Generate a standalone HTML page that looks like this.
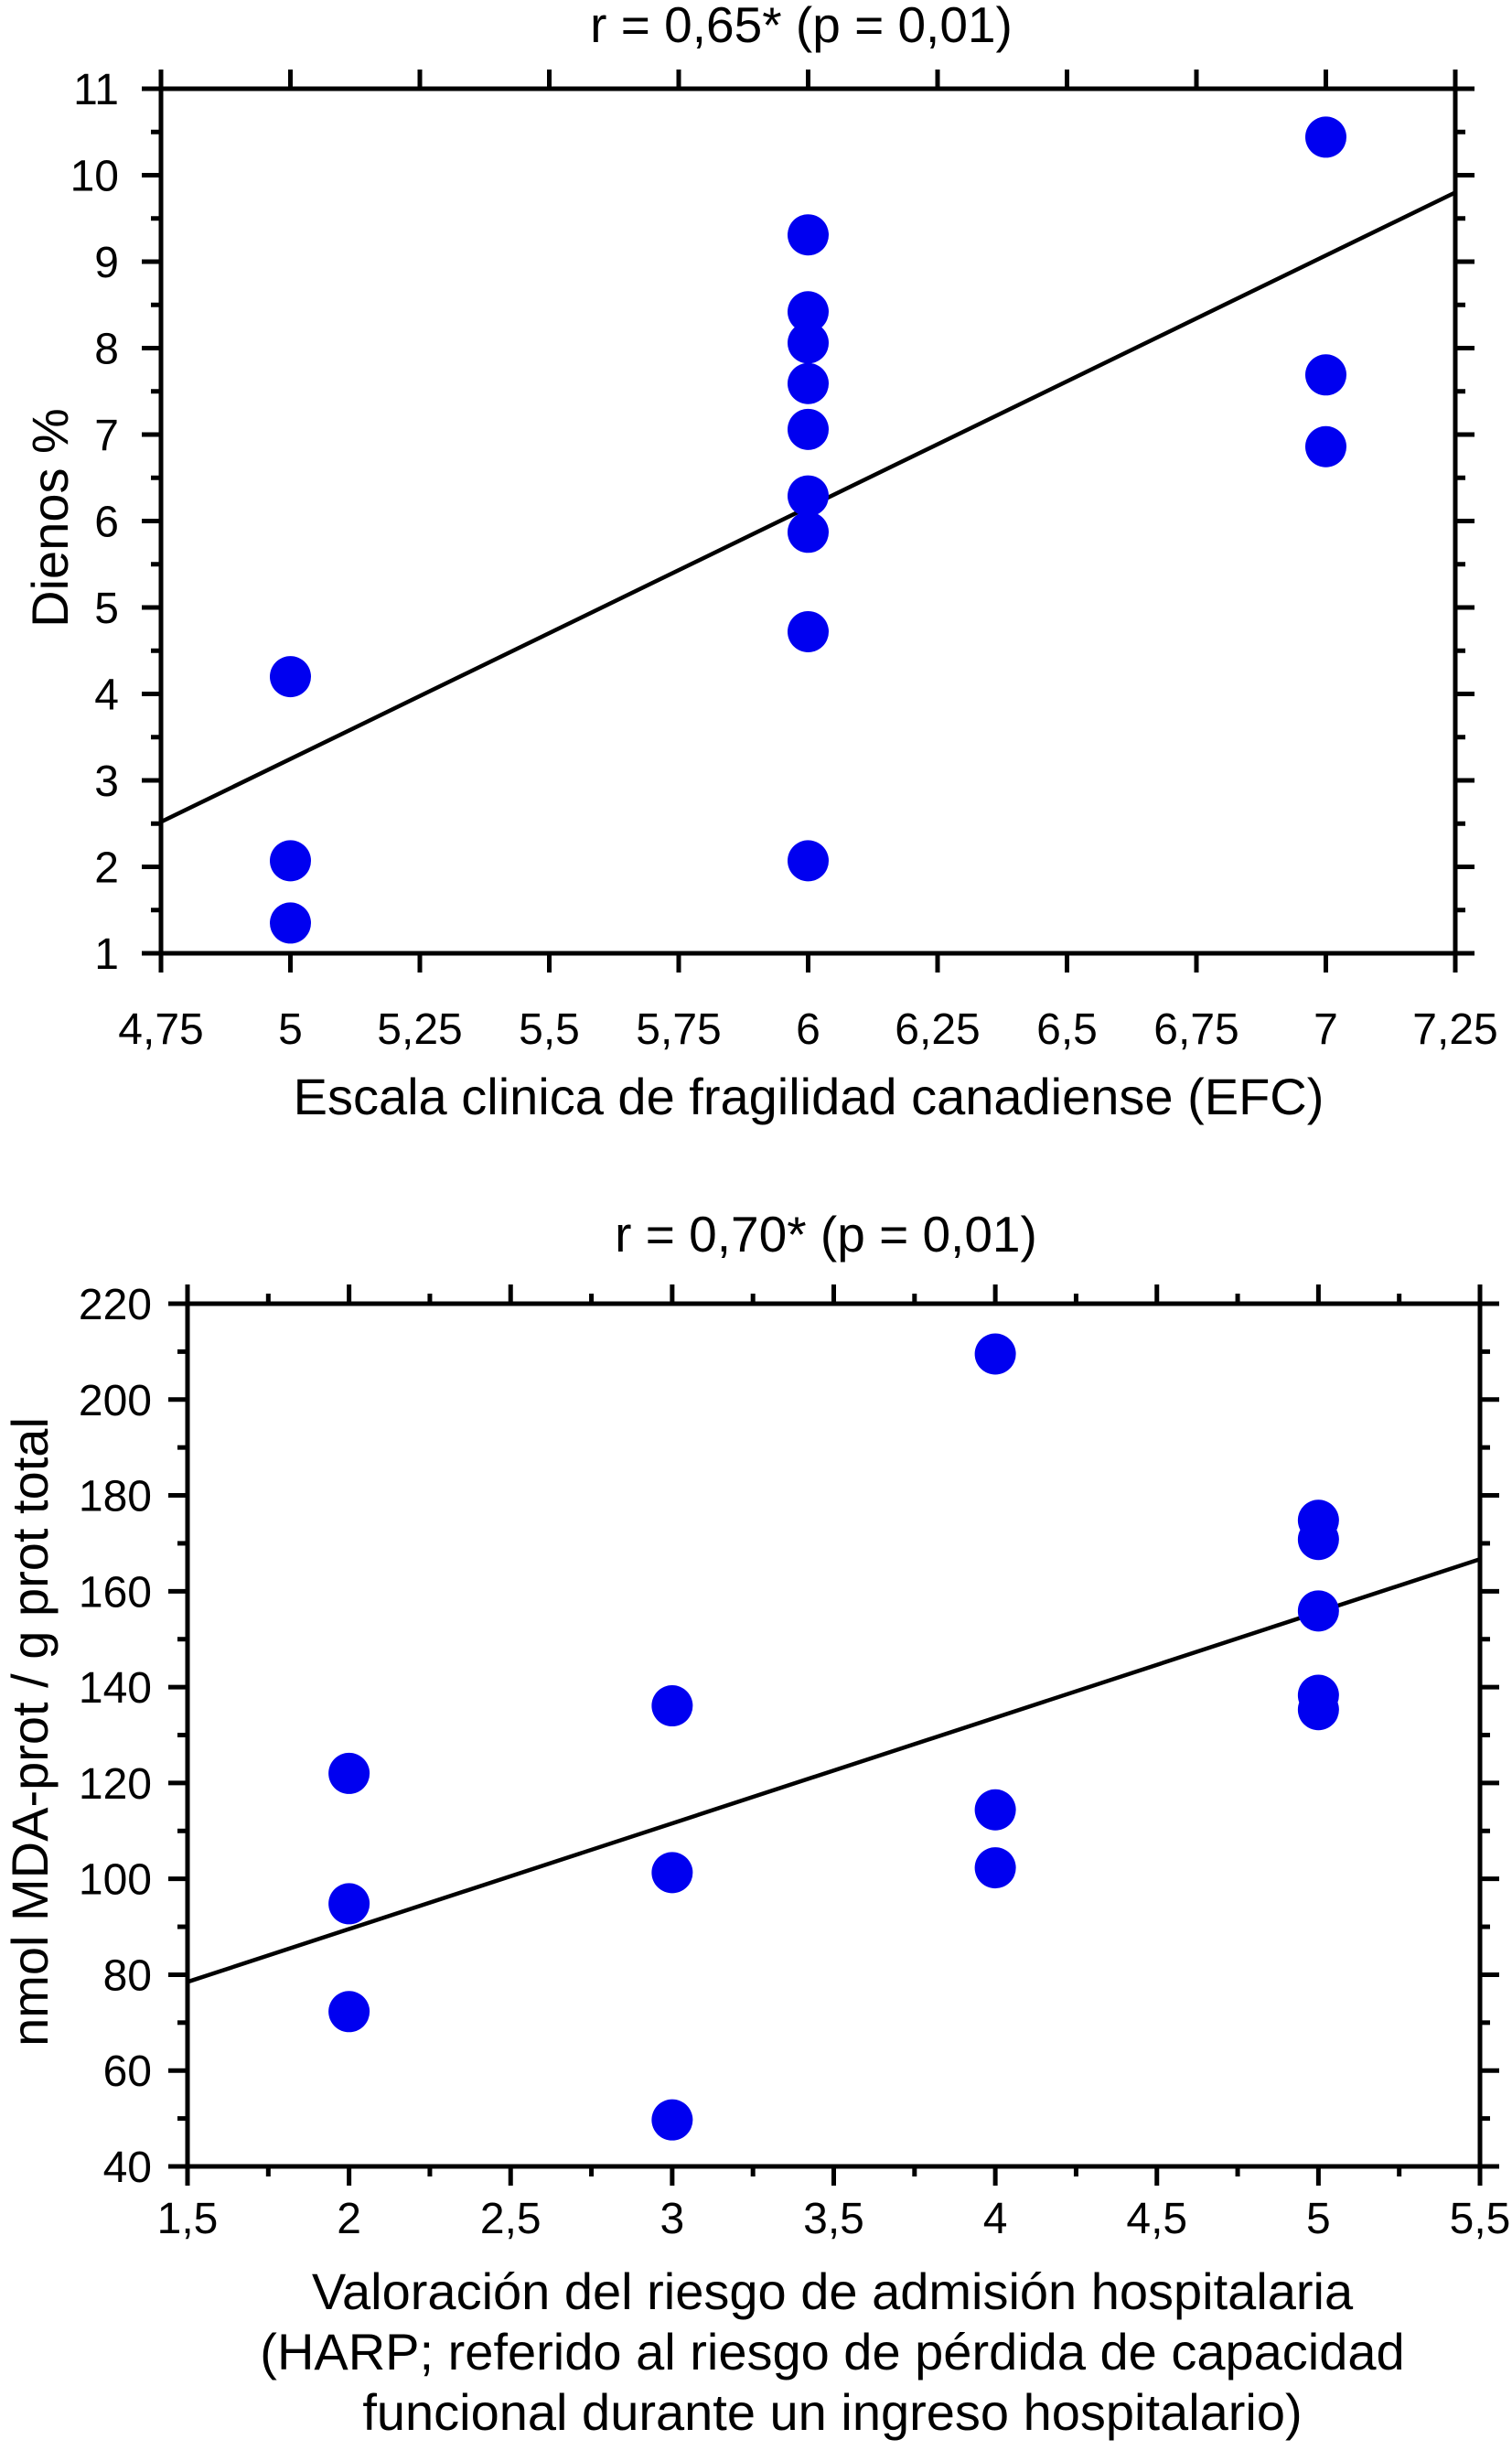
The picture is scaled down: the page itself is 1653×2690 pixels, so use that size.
<!DOCTYPE html>
<html><head><meta charset="utf-8"><style>html,body{margin:0;padding:0;background:#fff}svg{display:block}text{font-family:"Liberation Sans",sans-serif;fill:#000}</style></head>
<body>
<svg id="s" width="1653" height="2690" viewBox="0 0 1653 2690" xmlns="http://www.w3.org/2000/svg"></svg>
<script>
// Chart 1 data
const c1X=[5,5,5,6,6,6,6,6,6,6,6,6,7,7,7];
const c1Y=[4.20,2.07,1.35,9.31,8.42,8.06,7.59,7.06,6.29,5.87,4.72,2.07,10.44,7.69,6.86];
const c1Fit=[[4.75,2.52],[7.25,9.80]];
const c1XTicks=["4,75","5","5,25","5,5","5,75","6","6,25","6,5","6,75","7","7,25"];
const c1YTicks=["1","2","3","4","5","6","7","8","9","10","11"];
// Chart 2 data
const c2X=[2,2,2,3,3,3,4,4,4,5,5,5,5,5];
const c2Y=[122.0,94.8,72.3,136.1,101.3,49.7,209.5,114.4,102.3,174.8,170.8,155.9,138.3,135.3];
const c2Fit=[[1.5,78.5],[5.5,166.7]];
const c2XTicks=["1,5","2","2,5","3","3,5","4","4,5","5","5,5"];
const c2YTicks=["40","60","80","100","120","140","160","180","200","220"];

const NS="http://www.w3.org/2000/svg";
const svg=document.getElementById('s');
function mk(tag,attrs,parent){const e=document.createElementNS(NS,tag);for(const k in attrs)e.setAttribute(k,attrs[k]);(parent||svg).appendChild(e);return e;}
function txt(s,attrs,parent){const e=mk('text',attrs,parent);e.textContent=s;return e;}

function chart(o){
  const g=mk('g',{});
  
  
  const sx=v=>o.L+(v-o.x0)/(o.x1-o.x0)*(o.R-o.L);
  const sy=v=>o.B-(v-o.y0)/(o.y1-o.y0)*(o.B-o.T);
  const fr=mk('rect',{x:o.L,y:o.T,width:o.R-o.L,height:o.B-o.T,fill:'none',stroke:'#000','stroke-width':5},g);
  
  
  o.xTicks.forEach((t,i)=>{
    const v=o.x0+i*o.xStep, x=sx(v);
    mk('line',{x1:x,x2:x,y1:o.T,y2:o.T-21,stroke:'#000','stroke-width':5},g);
    mk('line',{x1:x,x2:x,y1:o.B,y2:o.B+21,stroke:'#000','stroke-width':5},g);
    const l=txt(t,{x:x,y:o.xLabY,'font-size':48,'text-anchor':'middle'},g);
    
    
    if(o.xMinor && i<o.xTicks.length-1){
      const xm=sx(v+o.xStep/2);
      mk('line',{x1:xm,x2:xm,y1:o.T,y2:o.T-11,stroke:'#000','stroke-width':5},g);
      mk('line',{x1:xm,x2:xm,y1:o.B,y2:o.B+11,stroke:'#000','stroke-width':5},g);
    }
  });
  o.yTicks.forEach((t,i)=>{
    const v=o.y0+i*o.yStep, y=sy(v);
    mk('line',{x1:o.L,x2:o.L-21,y1:y,y2:y,stroke:'#000','stroke-width':5},g);
    mk('line',{x1:o.R,x2:o.R+21,y1:y,y2:y,stroke:'#000','stroke-width':5},g);
    const l=txt(t,{x:o.yLabX,y:y+17,'font-size':48,'text-anchor':'end'},g);
    
    
    if(i<o.yTicks.length-1){
      const ym=sy(v+o.yStep/2);
      mk('line',{x1:o.L,x2:o.L-11,y1:ym,y2:ym,stroke:'#000','stroke-width':5},g);
      mk('line',{x1:o.R,x2:o.R+11,y1:ym,y2:ym,stroke:'#000','stroke-width':5},g);
    }
  });
  const fl=mk('line',{x1:sx(o.fit[0][0]),y1:sy(o.fit[0][1]),x2:sx(o.fit[1][0]),y2:sy(o.fit[1][1]),stroke:'#000','stroke-width':4.5},g);
  
  
  o.xs.forEach((xv,i)=>{
    const c=mk('ellipse',{cx:sx(xv),cy:sy(o.ys[i]),rx:22.5,ry:22.5,fill:'#0000f0'},g);
    
    
  });
  const tt=txt(o.title,{x:o.titleX,y:o.titleY,'font-size':55,'text-anchor':'middle'},g);
  
  
  o.xTitle.forEach((s,i)=>{
    const e=txt(s,{x:o.xTitleX,y:o.xTitleY+i*66,'font-size':56,'text-anchor':'middle'},g);
    
    
  });
  const yt=txt(o.yTitle,{x:0,y:0,'font-size':56,'text-anchor':'middle',transform:`translate(${o.yTitleX},${o.yTitleY}) rotate(-90)`},g);
  
  
}

chart({name:'chart-dienos',L:176,R:1591,T:97,B:1042,x0:4.75,x1:7.25,xStep:0.25,y0:1,y1:11,yStep:1,xMinor:false,
  xTicks:c1XTicks,yTicks:c1YTicks,xs:c1X,ys:c1Y,fit:c1Fit,xLabY:1141,yLabX:130,
  title:'r = 0,65* (p = 0,01)',titleX:876,titleY:46,
  xTitle:['Escala clinica de fragilidad canadiense (EFC)'],xTitleX:884,xTitleY:1218,
  yTitle:'Dienos %',yTitleX:74,yTitleY:566});
chart({name:'chart-mda',L:205,R:1618,T:1425,B:2368,x0:1.5,x1:5.5,xStep:0.5,y0:40,y1:220,yStep:20,xMinor:true,
  xTicks:c2XTicks,yTicks:c2YTicks,xs:c2X,ys:c2Y,fit:c2Fit,xLabY:2441,yLabX:166,
  title:'r = 0,70* (p = 0,01)',titleX:903,titleY:1368,
  xTitle:['Valoración del riesgo de admisión hospitalaria','(HARP; referido al riesgo de pérdida de capacidad','funcional durante un ingreso hospitalario)'],xTitleX:910,xTitleY:2524,
  yTitle:'nmol MDA-prot / g prot total',yTitleX:52,yTitleY:1893});
</script>
</body></html>
